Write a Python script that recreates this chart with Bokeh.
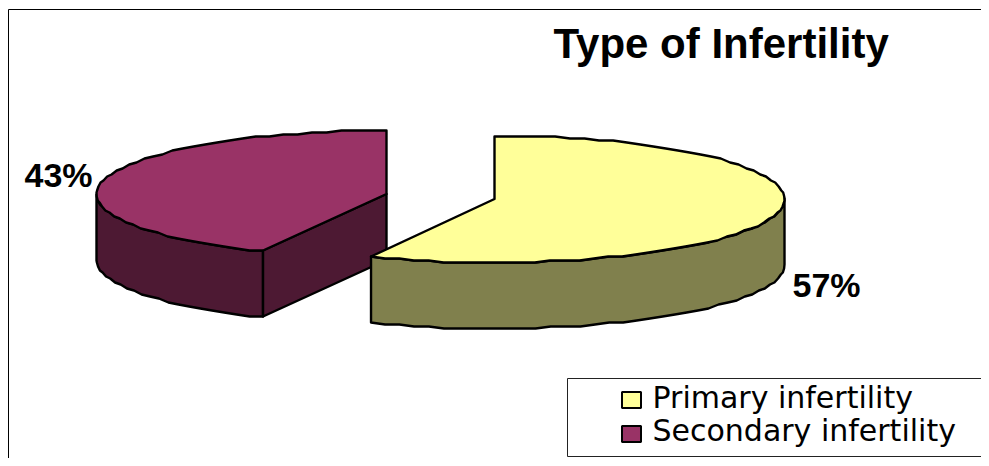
import numpy as np
from bokeh.plotting import figure
from bokeh.models import Range1d
from bokeh.core.properties import value
from bokeh.embed import file_html
from bokeh.resources import INLINE

title = "Type of Infertility"
categories = ["Primary infertility", "Secondary infertility"]
shares = [57, 43]
labels = ["57%", "43%"]
top_colors = ["#FFFF99", "#993366"]
wall_colors = ["#80804D", "#4D1933"]

RX, RY, DEPTH = 290, 63.5, 66
CENTERS = [(494, 198.5), (386, 193.5)]
FONT = value("Liberation Sans")
STEP = 3.0

p = figure(width=981, height=458, output_backend="svg", toolbar_location=None,
           x_range=Range1d(0, 981), y_range=Range1d(458, 0),
           min_border=0, outline_line_color=None, x_axis_type=None, y_axis_type=None,
           background_fill_color="white", border_fill_color="white")
p.grid.visible = False


def arc(c, a0, a1):
    n = max(2, int(round((a1 - a0) / STEP)) + 1)
    t = np.radians(np.linspace(a0, a1, n))
    return c[0] + RX * np.sin(t), np.round((c[1] - RY * np.cos(t)) / 2) * 2


def draw(xs, ys, color):
    p.patch(list(xs), list(ys), fill_color=color, line_color="black", line_width=2.4, line_join="round")


split = 360 * shares[0] / sum(shares)
c_y, c_r = CENTERS

# secondary slice (behind)
x, y = arc(c_r, split, 270)
draw(np.r_[x, x[::-1]], np.r_[y, y[::-1] + DEPTH], wall_colors[1])
x_e, y_e = arc(c_r, split, split + 1)
draw([c_r[0], c_r[0], x_e[0], x_e[0]], [c_r[1], c_r[1] + DEPTH, y_e[0] + DEPTH, y_e[0]], wall_colors[1])
x, y = arc(c_r, split, 360)
draw(np.r_[c_r[0], x], np.r_[c_r[1], y], top_colors[1])

# primary slice
x, y = arc(c_y, 90, split)
draw(np.r_[x, x[::-1]], np.r_[y, y[::-1] + DEPTH], wall_colors[0])
x, y = arc(c_y, 0, split)
draw(np.r_[c_y[0], x], np.r_[c_y[1], y], top_colors[0])

# frame
p.line([8, 8, 981], [458, 9, 9], line_color="black", line_width=1)

# legend box
p.line([981, 567, 567, 981], [378, 378, 456, 456], line_color="#222222", line_width=1)
p.rect([631, 631], [399.5, 433.5], width=19, height=16, fill_color=top_colors,
       line_color="black", line_width=2)
p.text([652, 652], [397, 430], text=categories, text_font=value("DejaVu Sans"), text_font_size="30px",
       text_color="black", text_baseline="alphabetic")

# texts
p.text([553], [43], text=[title], text_font=FONT, text_font_size="42px", text_font_style="bold",
       text_color="black", text_baseline="alphabetic")
p.text([24, 792], [174, 284], text=[labels[1], labels[0]], text_font=FONT, text_font_size="34px",
       text_font_style="bold", text_color="black", text_baseline="alphabetic")

open("out.html", "w").write(file_html(p, INLINE))
